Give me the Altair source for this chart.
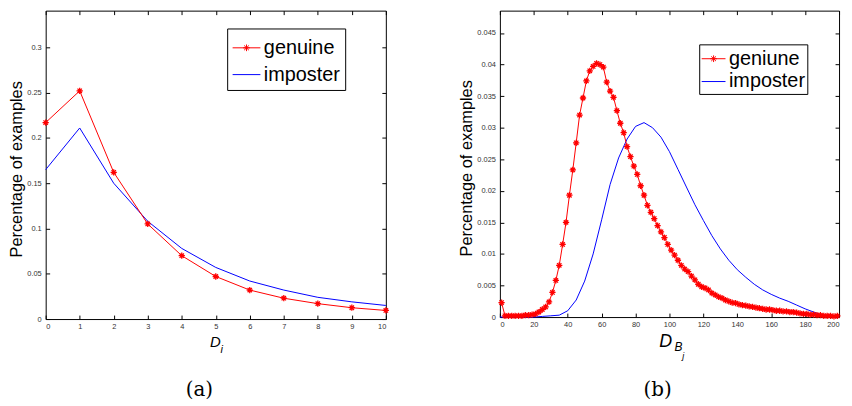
import altair as alt
import pandas as pd

# ---------------- data ----------------
# Panel (a)
a_x = list(range(0, 11))
a_genuine = [0.217, 0.252, 0.162, 0.105, 0.070, 0.047, 0.032, 0.023, 0.017, 0.0125, 0.0095]
a_imposter = [0.165, 0.211, 0.150, 0.108, 0.078, 0.057, 0.042, 0.032, 0.024, 0.019, 0.015]

# Panel (b)
b_genuine_x = list(range(1, 200, 2))
b_genuine = [
    0.0023, 0.0002, 0.0002, 0.0002, 0.0002, 0.0002, 0.0002, 0.0003, 0.0003, 0.0004,
    0.0005, 0.0008, 0.0012, 0.0016, 0.0024, 0.0039, 0.0058, 0.0082, 0.0115, 0.0150,
    0.0193, 0.0233, 0.0276, 0.0320, 0.0347, 0.0374, 0.0390, 0.0397, 0.0402, 0.0400,
    0.0396, 0.0372, 0.0358, 0.0348, 0.0327, 0.0307, 0.0292, 0.0270, 0.0254, 0.0239,
    0.0226, 0.0208, 0.0193, 0.0177, 0.0166, 0.0156, 0.0145, 0.0135, 0.0126, 0.0115,
    0.0106, 0.0098, 0.0090, 0.0082, 0.0076, 0.0072, 0.0065, 0.0059, 0.0052, 0.0048,
    0.0046, 0.0043, 0.0038, 0.0035, 0.0032, 0.0030, 0.0027, 0.0025, 0.0023, 0.0022,
    0.0020, 0.0019, 0.0018, 0.0017, 0.0016, 0.0015, 0.0014, 0.0013, 0.0012, 0.0012,
    0.0011, 0.0010, 0.0010, 0.0009, 0.0009, 0.0008, 0.0008, 0.0007, 0.0006, 0.0005,
    0.0005, 0.0004, 0.0004, 0.0003, 0.0003, 0.0002, 0.0002, 0.0002, 0.0001, 0.0002,
]
b_imposter_x = list(range(0, 201, 5))
b_imposter = [
    0.0, 0.0, 0.0, 0.0, 0.0, 0.0001, 0.0002, 0.0003, 0.0010, 0.0027,
    0.0057, 0.0100, 0.0154, 0.0210, 0.0252, 0.0282, 0.0302, 0.0308, 0.0300, 0.0285,
    0.0262, 0.0234, 0.0206, 0.0178, 0.0153, 0.0129, 0.0108, 0.0090, 0.0075, 0.0063,
    0.0052, 0.0043, 0.0036, 0.0030, 0.0025, 0.0019, 0.0013, 0.0008, 0.0003, 0.0001,
    0.0,
]

a_series = ["genuine", "imposter"]
b_series = ["geniune", "imposter"]
series_colors = ["#ff0000", "#0000ff"]

a_xticks = list(range(0, 11))
a_yticks = [0, 0.05, 0.1, 0.15, 0.2, 0.25, 0.3]
b_xticks = list(range(0, 201, 20))
b_yticks = [0, 0.005, 0.01, 0.015, 0.02, 0.025, 0.03, 0.035, 0.04, 0.045]

y_title = "Percentage of examples"
captions = ["(a)", "(b)"]

# ---------------- styling helpers ----------------
FONT = "Liberation Sans"
LABEL_COLOR = "#333333"
STAR = "M0,-1L0,1M-1,0L1,0M-0.7,-0.7L0.7,0.7M-0.7,0.7L0.7,-0.7"


def legend_paths(r):
    d = round(r * 0.7, 3)
    star = (f"M-1,0L1,0M0,-{r}L0,{r}M-{r},0L{r},0"
            f"M-{d},-{d}L{d},{d}M-{d},{d}L{d},-{d}")
    return [star, "M-1,0L1,0"]


def ax(orient, values, pad, **kw):
    return alt.Axis(orient=orient, values=values, format="~r", grid=False, domain=False,
                    ticks=True, tickSize=4, offset=-4, tickColor="black", tickWidth=1,
                    labelFont=FONT, labelFontSize=7.5, labelColor=LABEL_COLOR,
                    labelPadding=pad, **kw)


def panel(xv, gy, gx2, iy, names, xdom, ydom, xticks, yticks, w, h,
          leg_x, leg_y, leg_size, leg_pad, leg_row, r, xtitle_x, xtitle_y, xtitle_size,
          ytitle_x, subs, caption):
    g = pd.DataFrame({"x": gx2, "v": gy, "series": names[0]})
    im = pd.DataFrame({"x": xv, "v": iy, "series": names[1]})
    both = pd.concat([g, im], ignore_index=True)

    xs = alt.Scale(domain=xdom, nice=False, zero=False)
    ys = alt.Scale(domain=ydom, nice=False, zero=False)

    bottom = ax("bottom", xticks, 3.5, title="D", titleFont=FONT,
                titleFontStyle="italic", titleFontWeight="normal",
                titleFontSize=xtitle_size, titleColor="black", titleX=xtitle_x,
                titleY=xtitle_y, titleAlign="center", titleBaseline="alphabetic",
                titleAngle=0)
    left = ax("left", yticks, 4.5, title=y_title, titleFont=FONT,
              titleFontWeight="normal", titleFontSize=16.5, titleColor="black",
              titleX=ytitle_x, titleY=h / 2 + 4, titleAlign="center",
              titleBaseline="alphabetic", titleAngle=270)
    top = ax("top", xticks, 2, labels=False, title=None)
    right = ax("right", yticks, 2, labels=False, title=None)

    imp_line = alt.Chart(im).mark_line(color=series_colors[1], strokeWidth=1).encode(
        x=alt.X("x:Q", scale=xs, axis=bottom),
        y=alt.Y("v:Q", scale=ys, axis=left),
    )
    gen_line = alt.Chart(g).mark_line(color=series_colors[0], strokeWidth=1).encode(
        x=alt.X("x:Q", scale=xs, axis=None),
        y=alt.Y("v:Q", scale=ys, axis=None),
    )
    gen_pts = alt.Chart(g).mark_point(shape=STAR, filled=False, color=series_colors[0],
                                      size=40, strokeWidth=1.3, opacity=1).encode(
        x=alt.X("x:Q", scale=xs, axis=top),
        y=alt.Y("v:Q", scale=ys, axis=right),
    )
    leg = alt.Legend(title=None, orient="none", legendX=leg_x, legendY=leg_y,
                     strokeColor="black", fillColor="white", padding=leg_pad,
                     labelFont=FONT, labelFontSize=20, labelColor="black",
                     symbolSize=leg_size, symbolStrokeWidth=1, symbolOpacity=1,
                     symbolFillColor="transparent", labelOffset=3, rowPadding=leg_row,
                     labelLimit=400, cornerRadius=0)
    legend_layer = alt.Chart(both).mark_point(opacity=0, filled=False).encode(
        x=alt.X("x:Q", scale=xs, axis=None),
        y=alt.Y("v:Q", scale=ys, axis=None),
        color=alt.Color("series:N", scale=alt.Scale(domain=names, range=series_colors),
                        legend=leg),
        shape=alt.Shape("series:N", scale=alt.Scale(domain=names, range=legend_paths(r)),
                        legend=leg),
    )
    texts = []
    for (txt, px, py, fs, fam, style) in subs + [caption]:
        texts.append(
            alt.Chart(pd.DataFrame({"t": [txt]})).mark_text(
                font=fam, fontSize=fs, fontStyle=style, align="center",
                baseline="alphabetic", color="black"
            ).encode(x=alt.value(px), y=alt.value(py), text="t:N")
        )
    return alt.layer(imp_line, gen_line, gen_pts, legend_layer, *texts).resolve_axis(
        x="independent", y="independent"
    ).properties(width=w, height=h)


pa = panel(a_x, a_genuine, a_x, a_imposter, a_series, [0, 10], [0, 0.3406],
           a_xticks, a_yticks, 343, 311,
           leg_x=183, leg_y=18, leg_size=784, leg_pad=5, leg_row=2, r=0.24,
           xtitle_x=170.5, xtitle_y=32, xtitle_size=15, ytitle_x=-28.5,
           subs=[("i", 177.5, 345, 11, FONT, "italic")],
           caption=(captions[0], 155, 389, 20, "DejaVu Serif", "normal"))

pb = panel(b_imposter_x, b_genuine, b_genuine_x, b_imposter, b_series, [0, 200],
           [0, 0.04854], b_xticks, b_yticks, 342, 309,
           leg_x=201, leg_y=34, leg_size=576, leg_pad=2, leg_row=0, r=0.28,
           xtitle_x=166.7, xtitle_y=34, xtitle_size=18, ytitle_x=-33,
           subs=[("B", 180, 343.7, 12, FONT, "italic"),
                 ("j", 185, 351, 9, FONT, "italic")],
           caption=(captions[1], 159, 389, 20, "DejaVu Serif", "normal"))

chart = alt.hconcat(pa, pb, spacing=115, bounds="flush").resolve_scale(
    color="independent", shape="independent"
).properties(
    padding={"left": 0, "top": 0, "right": 0, "bottom": 0}
).configure(background="white").configure_view(stroke="black", strokeWidth=1)

chart.save("out.html", embed_options={"renderer": "svg", "actions": False})
